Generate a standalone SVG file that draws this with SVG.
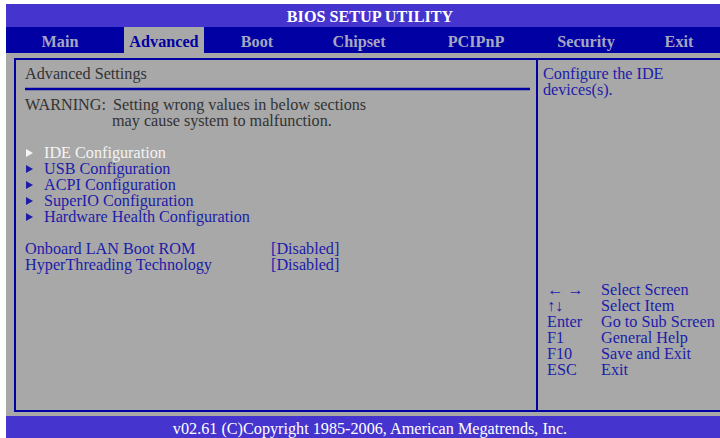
<svg xmlns="http://www.w3.org/2000/svg" width="720" height="438" viewBox="0 0 720 438">
<style>
text{font-family:"Liberation Serif","Times New Roman",serif;font-size:16.2px}
.menu{font-weight:bold;fill:#a6a6c0;text-anchor:middle}
.blue{fill:#1c1ca8}
.dark{fill:#333333}
.white{fill:#f4f4f4}
</style>
<rect x="0" y="0" width="720" height="438" fill="#ffffff"/>
<g id="titlebar">
<rect x="6" y="4" width="714" height="23" fill="#4634cf"/>
<text x="370" y="22" text-anchor="middle" font-weight="bold" fill="#ffffff">BIOS SETUP UTILITY</text>
</g>
<g id="menubar">
<rect x="6" y="27" width="714" height="26" fill="#0000a3"/>
<rect x="124" y="27" width="80" height="26" fill="#a8a8a8"/>
<text class="menu" x="60" y="47">Main</text>
<text x="164" y="47" text-anchor="middle" font-weight="bold" fill="#0000a3">Advanced</text>
<text class="menu" x="257" y="47">Boot</text>
<text class="menu" x="359" y="47">Chipset</text>
<text class="menu" x="476" y="47">PCIPnP</text>
<text class="menu" x="586" y="47">Security</text>
<text class="menu" x="679" y="47">Exit</text>
</g>
<g id="body">
<rect x="6" y="53" width="714" height="363" fill="#a8a8a8"/>
<rect x="15" y="59" width="706" height="352" fill="none" stroke="#0000a3" stroke-width="2"/>
<line x1="537" y1="59" x2="537" y2="411" stroke="#0000a3" stroke-width="2"/>
</g>
<g id="main-panel">
<text class="dark" x="25" y="79">Advanced Settings</text>
<line x1="25" y1="89" x2="530" y2="89" stroke="#0000a3" stroke-width="2.5"/>
<text class="dark" x="25" y="110">WARNING:<tspan x="113">Setting wrong values in below sections</tspan></text>
<text class="dark" x="112" y="126">may cause system to malfunction.</text>
<polygon points="26,149 26,157 33,153" fill="#f4f4f4"/>
<text class="white" x="44" y="158">IDE Configuration</text>
<polygon points="26,165 26,173 33,169" fill="#1c1ca8"/>
<text class="blue" x="44" y="174">USB Configuration</text>
<polygon points="26,181 26,189 33,185" fill="#1c1ca8"/>
<text class="blue" x="44" y="190">ACPI Configuration</text>
<polygon points="26,197 26,205 33,201" fill="#1c1ca8"/>
<text class="blue" x="44" y="206">SuperIO Configuration</text>
<polygon points="26,213 26,221 33,217" fill="#1c1ca8"/>
<text class="blue" x="44" y="222">Hardware Health Configuration</text>
<text class="blue" x="25" y="254">Onboard LAN Boot ROM</text>
<text class="blue" x="271" y="254">[Disabled]</text>
<text class="blue" x="25" y="270">HyperThreading Technology</text>
<text class="blue" x="271" y="270">[Disabled]</text>
</g>
<g id="help-panel">
<text class="blue" x="543" y="79">Configure the IDE</text>
<text class="blue" x="543" y="95">devices(s).</text>
<text class="blue" x="547" y="295" font-size="14">← →</text>
<text class="blue" x="601" y="295">Select Screen</text>
<text class="blue" x="547" y="311" font-size="14">↑↓</text>
<text class="blue" x="601" y="311">Select Item</text>
<text class="blue" x="547" y="327">Enter</text>
<text class="blue" x="601" y="327">Go to Sub Screen</text>
<text class="blue" x="547" y="343">F1</text>
<text class="blue" x="601" y="343">General Help</text>
<text class="blue" x="547" y="359">F10</text>
<text class="blue" x="601" y="359">Save and Exit</text>
<text class="blue" x="547" y="375">ESC</text>
<text class="blue" x="601" y="375">Exit</text>
</g>
<g id="footer">
<rect x="6" y="416" width="714" height="22" fill="#4634cf"/>
<text x="370" y="434" text-anchor="middle" fill="#ffffff">v02.61 (C)Copyright 1985-2006, American Megatrends, Inc.</text>
</g>
</svg>
